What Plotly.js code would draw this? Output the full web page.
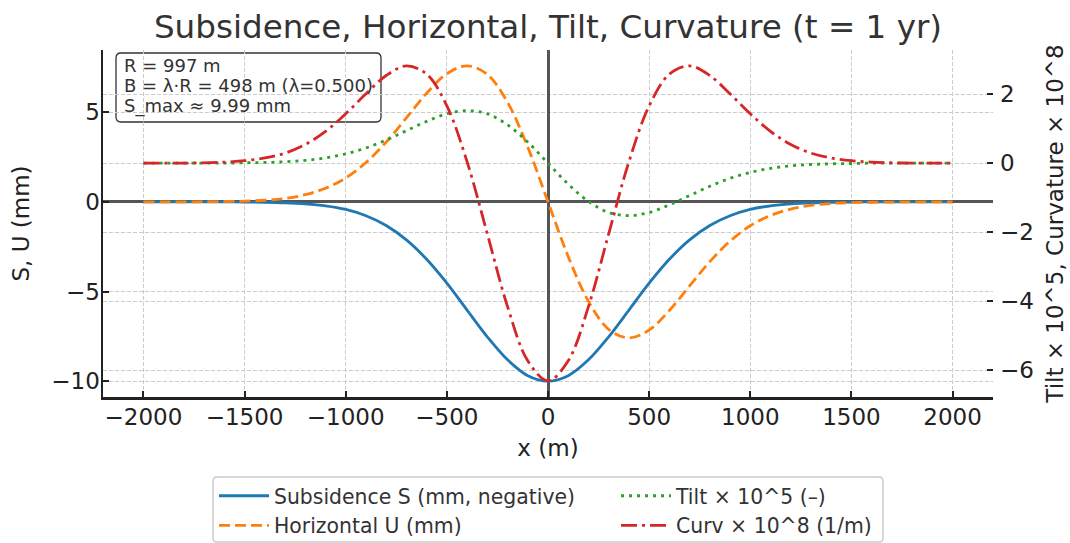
<!DOCTYPE html>
<html>
<head>
<meta charset="utf-8">
<script src="https://cdn.plot.ly/plotly-3.0.1.min.js"></script>
<style>html,body{margin:0;padding:0;background:#fff;}#chart{width:1070px;height:543px;}</style>
</head>
<body>
<div id="chart"></div>
<script>
// x positions (m)
const xVals = [-2000,-1900,-1800,-1700,-1600,-1500,-1400,-1300,-1200,-1100,-1000,-900,-800,-700,-600,-500,-400,-300,-200,-100,0,
               100,200,300,400,500,600,700,800,900,1000,1100,1200,1300,1400,1500,1600,1700,1800,1900,2000];
// Subsidence S (mm, negative)
const subsidence = [0,0,0,0,0,-0.01,-0.02,-0.05,-0.11,-0.22,-0.42,-0.77,-1.32,-2.12,-3.20,-4.53,-6.03,-7.52,-8.80,-9.68,-9.99,
                    -9.68,-8.80,-7.52,-6.03,-4.53,-3.20,-2.12,-1.32,-0.77,-0.42,-0.22,-0.11,-0.05,-0.02,-0.01,0,0,0,0,0];
// Horizontal U (mm)
const horizontal = [0,0,0,0.01,0.02,0.04,0.09,0.19,0.40,0.76,1.33,2.19,3.33,4.68,6.05,7.14,7.58,7.10,5.54,3.05,0,
                    -3.05,-5.54,-7.10,-7.58,-7.14,-6.05,-4.68,-3.33,-2.19,-1.33,-0.76,-0.40,-0.19,-0.09,-0.04,-0.02,-0.01,0,0,0];
// Tilt x 10^5
const tilt = [0,0,0,0,0,0.01,0.02,0.04,0.08,0.15,0.27,0.44,0.67,0.94,1.21,1.43,1.52,1.43,1.11,0.61,0,
              -0.61,-1.11,-1.43,-1.52,-1.43,-1.21,-0.94,-0.67,-0.44,-0.27,-0.15,-0.08,-0.04,-0.02,-0.01,0,0,0,0,0];
// Curvature x 10^8 (1/m)
const curvature = [0,0,0,0.01,0.03,0.07,0.15,0.29,0.54,0.92,1.43,2.01,2.54,2.82,2.58,1.66,0.04,-2.05,-4.16,-5.73,-6.31,
                   -5.73,-4.16,-2.05,0.04,1.66,2.58,2.82,2.54,2.01,1.43,0.92,0.54,0.29,0.15,0.07,0.03,0.01,0,0,0];

const xTicks = [-2000,-1500,-1000,-500,0,500,1000,1500,2000];
const yTicks = [-10,-5,0,5];
const y2Ticks = [-6,-4,-2,0,2];
const infoLines = ["R = 997 m", "B = λ·R = 498 m (λ=0.500)", "S_max ≈ 9.99 mm"];
const titleText = "Subsidence, Horizontal, Tilt, Curvature (t = 1 yr)";

const FONT = "DejaVu Sans, Verdana, sans-serif";
const LW = 2.8;

const traces = [
  {x:xVals, y:subsidence, name:"Subsidence S (mm, negative)", type:"scatter", mode:"lines",
   line:{color:"#1f77b4", width:LW, shape:"spline", smoothing:1}, legendrank:1},
  {x:xVals, y:horizontal, name:"Horizontal U (mm)", type:"scatter", mode:"lines",
   line:{color:"#ff7f0e", width:LW, dash:"11px,5px", shape:"spline", smoothing:1}, legendrank:3},
  {x:xVals, y:tilt, name:"Tilt × 10^5 (–)", type:"scatter", mode:"lines", yaxis:"y2",
   line:{color:"#2ca02c", width:LW, dash:"3px,5px", shape:"spline", smoothing:1}, legendrank:2},
  {x:xVals, y:curvature, name:"Curv × 10^8 (1/m)", type:"scatter", mode:"lines", yaxis:"y2",
   line:{color:"#d62728", width:LW, dash:"16px,5px,3px,5px", shape:"spline", smoothing:1}, legendrank:4}
];

function roundRect(x0, y0, x1, y1, rx, ry) {
  return `M${x0+rx},${y0} L${x1-rx},${y0} Q${x1},${y0} ${x1},${y0+ry} L${x1},${y1-ry} Q${x1},${y1} ${x1-rx},${y1} ` +
         `L${x0+rx},${y1} Q${x0},${y1} ${x0},${y1-ry} L${x0},${y0+ry} Q${x0},${y0} ${x0+rx},${y0} Z`;
}

const plotL = 103, plotR = 993, plotT = 50, plotB = 397;
const pw = plotR - plotL, ph = plotB - plotT;
const px2x = p => (p - plotL) / pw;
const px2y = p => (plotB - p) / ph;

const gridCommon = {showgrid:true, gridcolor:"#cccccc", gridwidth:1, griddash:"4px,2px"};

const layout = {
  width:1070, height:543,
  margin:{l:plotL, r:1070-plotR, t:plotT, b:543-plotB, pad:0, autoexpand:false},
  paper_bgcolor:"#ffffff", plot_bgcolor:"#ffffff",
  font:{family:FONT, color:"#222222", size:23},
  title:{text:titleText, font:{family:FONT, size:32.6, color:"#333333"},
         x:0.5, xref:"paper", xanchor:"center", y:1-27/543, yref:"container", yanchor:"middle"},
  xaxis:Object.assign({
    range:[-2200,2200], tickvals:xTicks, ticks:"inside", ticklen:6, tickwidth:2, tickcolor:"#222",
    showline:true, linecolor:"#222", linewidth:2.5,
    zeroline:true, zerolinecolor:"#555555", zerolinewidth:3,
    tickfont:{size:23, color:"#222"},
    ticklabelstandoff:-2,
    title:{text:"x (m)", font:{size:23, color:"#222"}, standoff:11},
    automargin:false
  }, gridCommon),
  yaxis:Object.assign({
    range:[-10.87,8.46], tickvals:yTicks, ticks:"inside", ticklen:6, tickwidth:2, tickcolor:"#222",
    showline:true, linecolor:"#222", linewidth:2.5,
    zeroline:true, zerolinecolor:"#555555", zerolinewidth:3,
    tickfont:{size:23, color:"#222"},
    ticklabelstandoff:-4,
    title:{text:"S, U (mm)", font:{size:23, color:"#222"}, standoff:16},
    automargin:false
  }, gridCommon),
  yaxis2:Object.assign({
    overlaying:"y", side:"right",
    range:[-6.78,3.28], tickvals:y2Ticks, ticks:"inside", ticklen:6, tickwidth:2, tickcolor:"#222",
    showline:false, zeroline:false,
    tickfont:{size:23, color:"#222"},
    ticklabelstandoff:6,
    title:{text:"Tilt × 10^5, Curvature × 10^8", font:{size:23, color:"#222"}, standoff:13},
    automargin:false
  }, gridCommon),
  showlegend:true,
  legend:{orientation:"h", x:px2x(214), xanchor:"left", y:px2y(476), yanchor:"top",
          font:{family:FONT, size:20.4, color:"#333"}, bgcolor:"rgba(0,0,0,0)", borderwidth:0,
          entrywidth:337, itemwidth:50, traceorder:"normal"},
  shapes:[
    {type:"path", xref:"paper", yref:"paper", layer:"between",
     path:roundRect(px2x(116), px2y(53), px2x(381), px2y(122), 5/pw, -5/ph),
     fillcolor:"rgba(255,255,255,0.9)", line:{color:"#333", width:1.3}},
    {type:"path", xref:"paper", yref:"paper", layer:"below",
     path:roundRect(px2x(213), px2y(477), px2x(883), px2y(542), 4/pw, -4/ph),
     fillcolor:"#ffffff", line:{color:"#cccccc", width:1.5}}
  ],
  annotations:infoLines.map((t,i)=>({
    text:t, xref:"paper", yref:"paper", x:px2x(122), y:px2y([65,85.5,106][i]),
    xanchor:"left", yanchor:"middle", showarrow:false,
    font:{family:FONT, size:18, color:"#333"}
  }))
};

Plotly.newPlot("chart", traces, layout, {displayModeBar:false, staticPlot:true});
</script>
</body>
</html>
